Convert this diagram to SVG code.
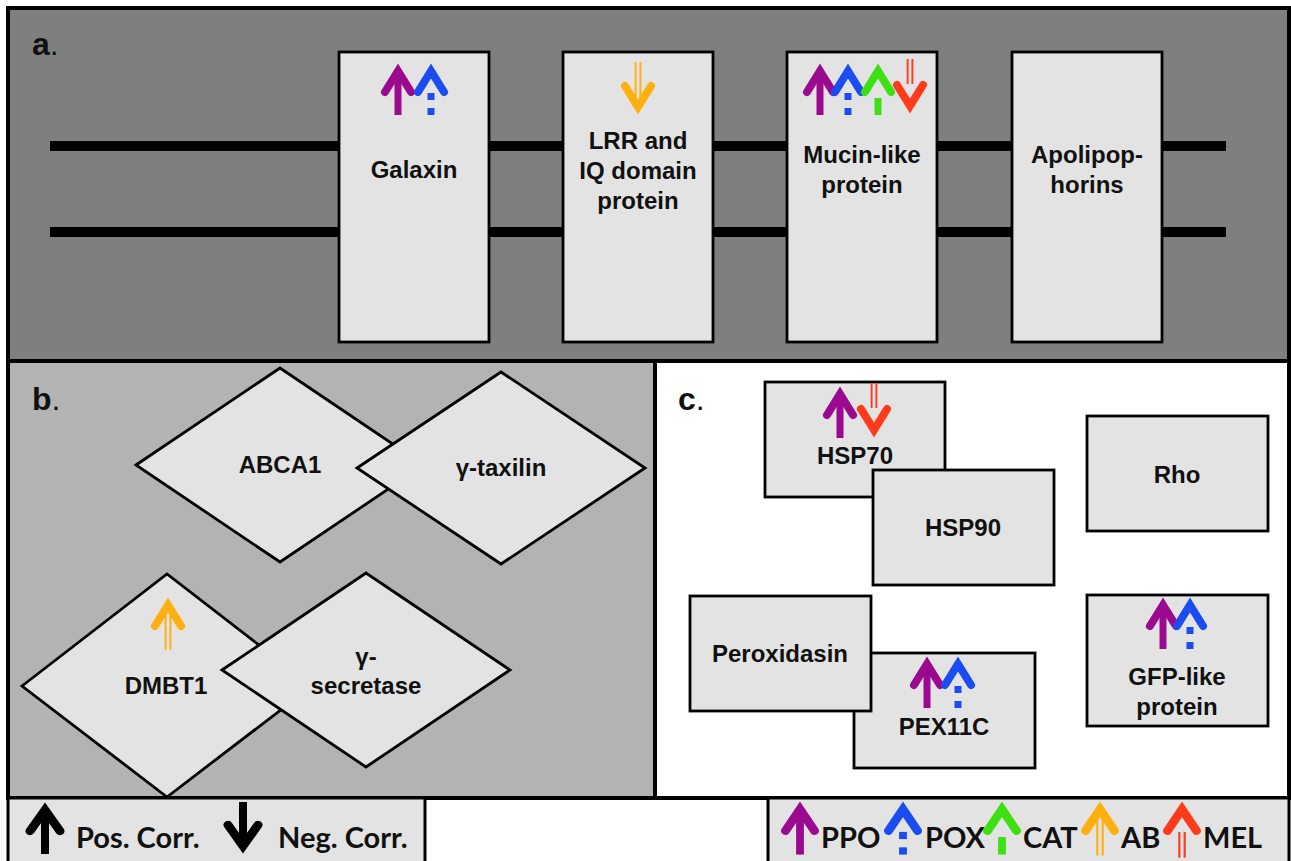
<svg xmlns="http://www.w3.org/2000/svg" xmlns:xlink="http://www.w3.org/1999/xlink" width="1291" height="861" viewBox="0 0 1291 861">
<style>
.panel{stroke:#000;stroke-width:4}
.box{fill:#e3e3e3;stroke:#000;stroke-width:2.8}
.lbl{font-family:"Liberation Sans",Arial,sans-serif;font-weight:bold;font-size:24px;fill:#111;text-anchor:middle}
.plabel{font-family:"Liberation Sans",Arial,sans-serif;font-weight:bold;font-size:32px;fill:#111}
.leg{font-family:Lato,"Liberation Sans",sans-serif;font-weight:bold;font-size:29px;fill:#111}
.ch{fill:none;stroke:currentColor;stroke-width:8;stroke-linecap:round;stroke-linejoin:miter;stroke-miterlimit:10}
.sh{fill:none;stroke:currentColor;stroke-width:7}
.thin{fill:none;stroke:currentColor;stroke-width:1.9}
.ppo{color:#9b0a8e}.pox{color:#1a4cf2}.cat{color:#3ee014}.ab{color:#ffb010}.mel{color:#ff3b1c}.blk{color:#000}
</style>
<defs>
<g id="up-solid"><path class="sh" d="M0,8V52"/><path class="ch" d="M-13,29L0,8L13,29"/></g>
<g id="up-dash"><path class="ch" d="M-13,29L0,8L13,29"/><rect x="-3.5" y="30" width="7" height="7" fill="currentColor"/><rect x="-3.5" y="45" width="7" height="7" fill="currentColor"/></g>
<g id="up-cat"><path class="ch" d="M-13,29L0,8L13,29"/><path class="sh" d="M0,35V52"/></g>
<g id="up-ab"><path class="ch" d="M-13,29L0,8L13,29"/><path class="thin" d="M-2.4,11V53M2.4,11V53"/></g>
<g id="up-mel"><path class="ch" d="M-13,29L0,8L13,29"/><path class="thin" d="M-2.4,30V55M2.4,30V55"/></g>
</defs>

<!-- panels -->
<g id="panel-a"><rect class="panel" x="8" y="8" width="1281" height="353" fill="#7f7f7f"/>
<text class="plabel" x="32" y="55">a<tspan font-weight="normal">.</tspan></text></g>
<g id="panel-b"><rect class="panel" x="8" y="361" width="647" height="437" fill="#b3b3b3"/>
<text class="plabel" x="32" y="410">b<tspan font-weight="normal">.</tspan></text></g>
<g id="panel-c"><rect class="panel" x="655" y="361" width="634" height="437" fill="#ffffff"/>
<text class="plabel" x="678" y="410">c<tspan font-weight="normal">.</tspan></text></g>

<g id="connectors">
<line x1="50" y1="146" x2="1226" y2="146" stroke="#000" stroke-width="10"/>
<line x1="50" y1="232" x2="1226" y2="232" stroke="#000" stroke-width="10"/>
</g>

<!-- panel a nodes -->
<g id="galaxin"><rect class="box" x="339" y="52" width="150" height="290"/>
<use xlink:href="#up-solid" href="#up-solid" class="ppo" transform="translate(398,63)"/>
<use xlink:href="#up-dash" href="#up-dash" class="pox" transform="translate(431,63)"/>
<text class="lbl" x="414" y="178">Galaxin</text></g>
<g id="lrr"><rect class="box" x="563" y="52" width="150" height="290"/>
<use xlink:href="#up-ab" href="#up-ab" class="ab" transform="translate(638,115) scale(1,-1)"/>
<text class="lbl" x="638" y="149">LRR and</text><text class="lbl" x="638" y="179">IQ domain</text><text class="lbl" x="638" y="209">protein</text></g>
<g id="mucin"><rect class="box" x="787" y="52" width="150" height="290"/>
<use xlink:href="#up-solid" href="#up-solid" class="ppo" transform="translate(820,63)"/>
<use xlink:href="#up-dash" href="#up-dash" class="pox" transform="translate(848,63)"/>
<use xlink:href="#up-cat" href="#up-cat" class="cat" transform="translate(878,63)"/>
<use xlink:href="#up-mel" href="#up-mel" class="mel" transform="translate(910,114) scale(1,-1)"/>
<text class="lbl" x="862" y="163">Mucin-like</text><text class="lbl" x="862" y="193">protein</text></g>
<g id="apolipophorins"><rect class="box" x="1012" y="52" width="150" height="290"/>
<text class="lbl" x="1087" y="163">Apolipop-</text><text class="lbl" x="1087" y="193">horins</text></g>

<!-- panel b nodes -->
<g id="abca1"><polygon class="box" points="136,465 280,368 424,465 280,562"/>
<text class="lbl" x="280" y="473">ABCA1</text></g>
<g id="gamma-taxilin"><polygon class="box" points="357,468 501,372 645,468 501,564"/>
<text class="lbl" x="501" y="476">γ-taxilin</text></g>
<g id="dmbt1"><polygon class="box" points="22,686 167,574 312,686 167,797"/>
<use xlink:href="#up-ab" href="#up-ab" class="ab" transform="translate(168,597)"/>
<text class="lbl" x="166" y="694">DMBT1</text></g>
<g id="gamma-secretase"><polygon class="box" points="222,670 366,573 510,670 366,767"/>
<text class="lbl" x="366" y="665">γ-</text><text class="lbl" x="366" y="694">secretase</text></g>

<!-- panel c nodes -->
<g id="hsp70"><rect class="box" x="765" y="382" width="180" height="115"/>
<use xlink:href="#up-solid" href="#up-solid" class="ppo" transform="translate(840,386)"/>
<use xlink:href="#up-mel" href="#up-mel" class="mel" transform="translate(874,438) scale(1,-1)"/>
<text class="lbl" x="855" y="464">HSP70</text></g>
<g id="hsp90"><rect class="box" x="873" y="470" width="181" height="115"/>
<text class="lbl" x="963" y="536">HSP90</text></g>
<g id="rho"><rect class="box" x="1087" y="416" width="181" height="115"/>
<text class="lbl" x="1177" y="483">Rho</text></g>
<g id="pex11c"><rect class="box" x="854" y="653" width="181" height="115"/>
<use xlink:href="#up-solid" href="#up-solid" class="ppo" transform="translate(927,656)"/>
<use xlink:href="#up-dash" href="#up-dash" class="pox" transform="translate(958,656)"/>
<text class="lbl" x="944" y="735">PEX11C</text></g>
<g id="peroxidasin"><rect class="box" x="690" y="596" width="181" height="115"/>
<text class="lbl" x="780" y="662">Peroxidasin</text></g>
<g id="gfp"><rect class="box" x="1087" y="595" width="181" height="131"/>
<use xlink:href="#up-solid" href="#up-solid" class="ppo" transform="translate(1163,597)"/>
<use xlink:href="#up-dash" href="#up-dash" class="pox" transform="translate(1190,597)"/>
<text class="lbl" x="1177" y="685">GFP-like</text><text class="lbl" x="1177" y="715">protein</text></g>

<!-- legends -->
<g id="legend-corr"><rect x="8" y="798" width="417" height="70" fill="#e3e3e3" stroke="#000" stroke-width="3"/>
<use xlink:href="#up-solid" href="#up-solid" class="blk" transform="translate(45,802) scale(1.15,1)"/>
<text class="leg" x="76" y="848">Pos. Corr.</text>
<use xlink:href="#up-solid" href="#up-solid" class="blk" transform="translate(243,854) scale(1.15,-1)"/>
<text class="leg" x="278" y="848">Neg. Corr.</text></g>
<g id="legend-colors"><rect x="768" y="798" width="521" height="70" fill="#e3e3e3" stroke="#000" stroke-width="3"/>
<use xlink:href="#up-solid" href="#up-solid" class="ppo" transform="translate(800,801) scale(1.12,1.03)"/>
<text class="leg" x="821" y="848">PPO</text>
<use xlink:href="#up-dash" href="#up-dash" class="pox" transform="translate(903,801) scale(1.12,1.03)"/>
<text class="leg" x="925" y="848">POX</text>
<use xlink:href="#up-cat" href="#up-cat" class="cat" transform="translate(1002,801) scale(1.12,1.03)"/>
<text class="leg" x="1023" y="848">CAT</text>
<use xlink:href="#up-ab" href="#up-ab" class="ab" transform="translate(1100,801) scale(1.12,1.03)"/>
<text class="leg" x="1121" y="848">AB</text>
<use xlink:href="#up-mel" href="#up-mel" class="mel" transform="translate(1182,801) scale(1.12,1.03)"/>
<text class="leg" x="1203" y="848">MEL</text></g>
</svg>
